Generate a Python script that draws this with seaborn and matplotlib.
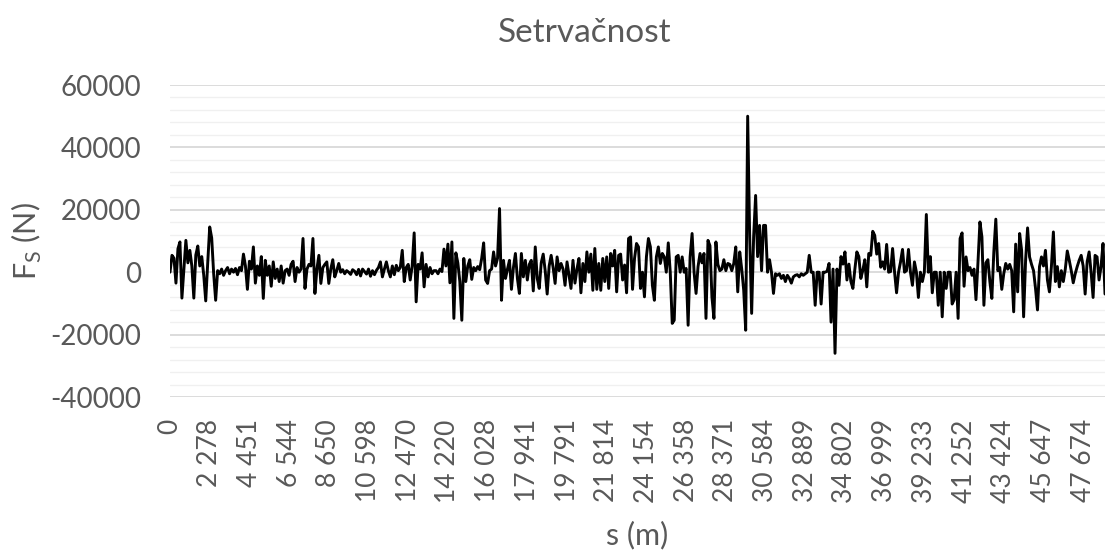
import matplotlib
matplotlib.use("Agg")
import matplotlib.pyplot as plt
import seaborn as sns
import pandas as pd
import numpy as np
from matplotlib.ticker import MultipleLocator

# ---- data (in kN) ----
title = "Setrvačnost"
x_label = "s (m)"
y_label = r"F$_\mathregular{S}$ (N)"

tick_labels = ["0", "2 278", "4 451", "6 544", "8 650", "10 598", "12 470",
               "14 220", "16 028", "17 941", "19 791", "21 814", "24 154",
               "26 358", "28 371", "30 584", "32 889", "34 802", "36 999",
               "39 233", "41 252", "43 424", "45 647", "47 674"]

fs_part1 = [0, 5.4, 4.5, -3.5, 7.5, 9.7, -8.3, 1, 10.2, 3, 7, 2, -8.3, 5.5, 8.4, 2,
            5, -1, -9.2, 3, 14.5, 11, -0.5, -9, 0.5, -0.5, 1, -1, 0.5, 1.5, -0.5,
            1, 0, 1.2, -0.8, 1.5, 0.5, 5.8, 2, -5.5, 3.5, 1, 8.1, -3.5, 2, -1, 5,
            -8.4, 3.8, -1, 2, -4.5, 3.3, -2, 1, -3, 2, -3.5, 0.5, 1, -1, 2.5, 3.5,
            -3, 1.5, 0]
fs_part2 = [1, 10.8, -5.2, 1, 2.5, 2, 10.8, -6.8, 1, 5.4, -3.6, 1.5, 2.5, 3.3, -3.6,
            1, 4, -1.5, 0.5, 2.8, 0, 0.8, -0.5, 0.5, 0, -0.7, 0.8, 0.3, -0.8, 0.9,
            -1.2, 1, 0.2, -0.6, 1, -1.3, 0.5, -0.8, 0.6, 1.5, 3.3, -1.5, 1, 3.3,
            0.5, -1.5, 2, -0.8, 2.2, 0.5, 1.5, 7, -3, 1.5, 2.5, -2.5, 2, 12.6,
            -9.5, 2.5, 1, 6.2, -4.7, 2.5, -1.5, 1.5, -0.5, 0.5]
fs_part3 = [0.5, -0.5, 1, 0.2, 7.4, 2, 9, -3.4, 9.7, -14.8, 6.2, 3, -3, -15.4, 4.4,
            -3, 2, 4, -2.3, 1.5, 0.5, 1.8, 0.8, 4.4, 9.4, -2.5, -3.6, 0.5, 1, 6.5,
            2, 4.5, 20.4, -9, 3.8, -2, 1, 3.8, -5.5, 1.5, 6, -2, -6.8, 6, -1.5,
            3.8, -2.5, 2.5, 3.8, -6, 8.1, -2, -5.2, 3, 5.8, 0.5, -7, 2, 5.4, 1.5,
            -3.6, 4.9, 0.5, 2.8, 1, -4.2, 3.3]
fs_part4 = [-1, -5.2, 3.8, -3.5, 1, 4.4, -6.6, 2.8, -3, 6.5, 0, 5.8, -5.8, 7.6,
            -5.5, 2.8, -5.8, 4.4, -3, 4.9, -5.2, 6, 2, 7, -6.3, 5.4, 5.8, -2.5,
            2.3, -6.6, 10.8, 11.3, -5.5, 4.4, 9.2, 8.1, -5.2, 0, -7.9, 5, 10.8,
            8.1, -4.2, -9, 4.9, 8.1, 2.8, 6, 4.9, 0, 9.4, 0, -16.4, -15.4, 4.9,
            5.4, 0, 4.9, 0, 1.2, -17, 4.9, 12.4, 0, -6.8, 1.8, 6]
fs_part5 = [3, 6, -14.8, 10.2, 8.5, -8, -14.8, 9.7, 2.5, 0.5, 1, 4, 0.5, 2.8, 2.5,
            0.5, 2.8, 8.1, -6.3, 6.5, 1, -5.8, -18.6, 50, 11.8, -13.2, 11.3, 24.6,
            5, 15, 0.5, 15, 15, 0, 4, 0, -6.8, -0.5, -1, -0.5, -2, -1, -3, -1, -2,
            -3.5, -1.5, -1, -0.8, -1.5, -0.5, -1, -0.5, 0, 5.4, 0, 0, -10.6, 0, 0,
            -10.2, 0, 0, 0.3, 2.8, -16, 1, -26]
fs_part6 = [1, -4.2, 5, 2.6, 6.5, -2.5, 2.6, -3, -5.2, 1, 6.5, 5, -2, 0.6, 4, -4.7,
            6, 5.4, 13.1, 11.8, 5.8, 9.2, 1.6, 3.3, 1, 8.9, 0, 0.2, 7.6, 0, -6.6,
            0, 3.3, 7.3, 0, 0.5, 7.3, 0, -4.2, 3.3, 0, -8.1, 0, -3, 0, 18.5, 0, 5,
            -6.6, 0, 0, -10.6, 0, -14.3, 0, -5.2, 0, 0, -10.2, -8.8, 0, -14.8,
            10.8, 12.6, -4.5, 4.9, 0.5, 1.5]
fs_part7 = [-1, 1, -8.8, 3, 16.1, 11.3, -10.6, 3, 4, -3, -8.4, 6.5, 17, 0.5, 1.5,
            -5.5, -0.5, 2.8, 1, 2.5, 0.5, -12.7, 9, -6.3, 12.4, 7, -14.3, 3.8,
            14.2, 4.9, 2.5, 0.5, -5.2, -12.1, 1.8, 4.9, 2, 7, -2.5, -6.3, 1.8,
            12.9, -3, 1.8, -4.7, 0.5, -3, 1, 6.8, 3.8, 0.5, -3.4, -0.5, 1.8, 3.8,
            5.4, 2, -7, 3.3, 6.5, 0, -8.1, 5.4, 4.9, -2.5, 1.8, 9.2, -7]

fs_kN = fs_part1 + fs_part2 + fs_part3 + fs_part4 + fs_part5 + fs_part6 + fs_part7
fs = [v * 1000 for v in fs_kN]

df = pd.DataFrame({"idx": np.arange(len(fs)), "fs": fs})

# ---- style ----
sns.set_theme(style="white")
plt.rcParams["font.family"] = ["Lato", "DejaVu Sans"]
plt.rcParams["mathtext.fontset"] = "custom"
plt.rcParams["mathtext.rm"] = "Lato"
plt.rcParams["axes.unicode_minus"] = False
grey = "#595959"

fig = plt.figure(figsize=(11.06, 5.51), dpi=100)
ax = fig.add_axes([170 / 1106, 1 - 397 / 551, 935 / 1106, (397 - 85) / 551])

sns.lineplot(data=df, x="idx", y="fs", ax=ax, color="black", linewidth=2.1,
             zorder=3)

ax.set_ylim(-40000, 60000)
ax.set_xlim(0, len(fs) - 1)
ax.yaxis.set_major_locator(MultipleLocator(20000))
ax.yaxis.set_minor_locator(MultipleLocator(4000))
ax.grid(which="major", axis="y", color="#d9d9d9", linewidth=1.3, zorder=0)
ax.grid(which="minor", axis="y", color="#f0f0f0", linewidth=1.0, zorder=0)
ax.grid(which="major", axis="x", visible=False)
ax.set_axisbelow(True)

step = 20
ax.set_xticks(range(0, step * len(tick_labels), step))
ax.set_xticklabels(tick_labels, rotation=90)

for s in ax.spines.values():
    s.set_visible(False)

ax.tick_params(axis="y", which="both", length=0, pad=21, labelsize=20,
               labelcolor=grey)
ax.tick_params(axis="x", which="both", length=0, pad=16, labelsize=19,
               labelcolor=grey)

ax.set_xlabel(x_label, fontsize=22, color=grey, labelpad=13)
ax.set_ylabel(y_label, fontsize=22, color=grey, labelpad=4)

fig.text(585 / 1106, 1 - 33 / 551, title, ha="center", va="center",
         fontsize=24, color=grey)

fig.savefig("out.png", dpi=100)
